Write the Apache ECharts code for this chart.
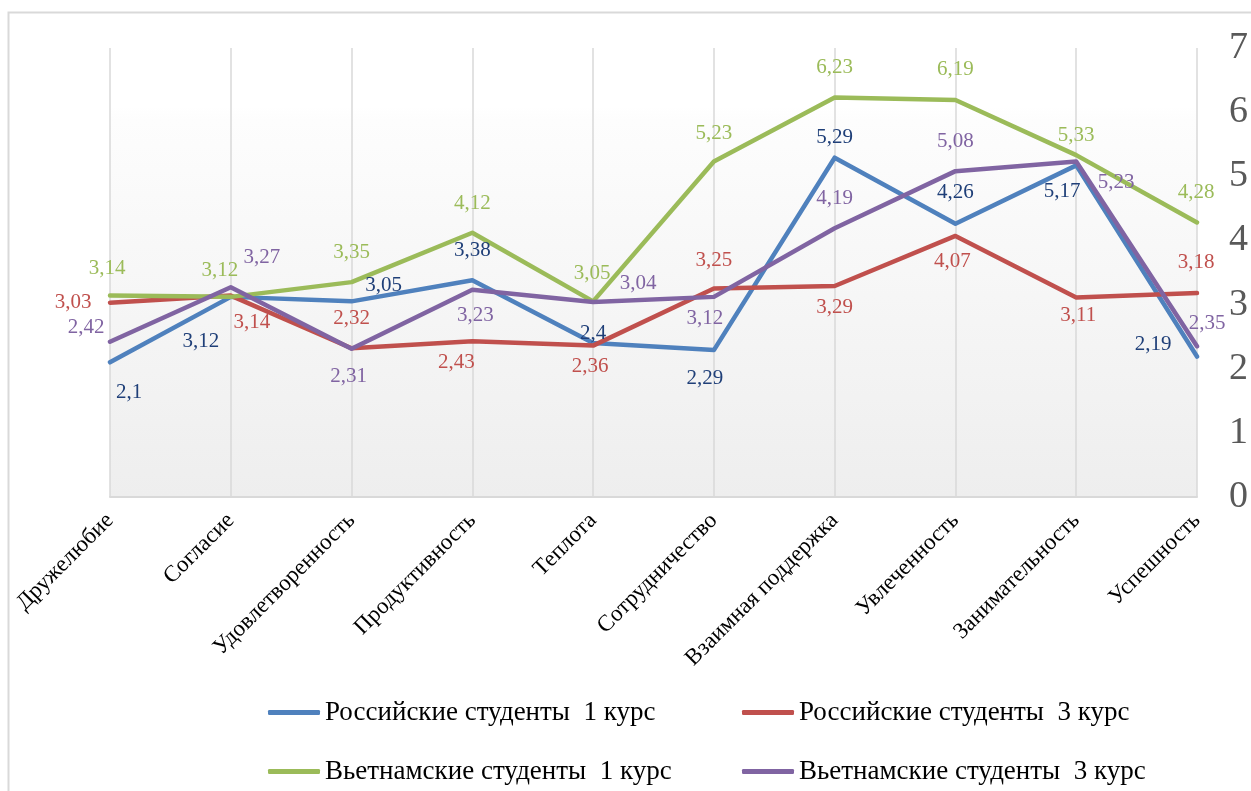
<!DOCTYPE html>
<html>
<head>
<meta charset="utf-8">
<script src="https://cdn.jsdelivr.net/npm/echarts@6/dist/echarts.min.js"></script>
<style>
html,body{margin:0;padding:0;background:#fff;overflow:hidden;width:100%;height:100%;}
#chart{width:100vw;height:100vh;}
</style>
</head>
<body>
<div id="chart"></div>
<script>
var categories = ['Дружелюбие','Согласие','Удовлетворенность','Продуктивность','Теплота','Сотрудничество','Взаимная поддержка','Увлеченность','Занимательность','Успешность'];
var seriesNames = ['Российские студенты  1 курс','Российские студенты  3 курс','Вьетнамские студенты  1 курс','Вьетнамские студенты  3 курс'];
var ruYear1 = [2.1, 3.12, 3.05, 3.38, 2.4, 2.29, 5.29, 4.26, 5.17, 2.19];
var ruYear3 = [3.03, 3.14, 2.32, 2.43, 2.36, 3.25, 3.29, 4.07, 3.11, 3.18];
var vnYear1 = [3.14, 3.12, 3.35, 4.12, 3.05, 5.23, 6.23, 6.19, 5.33, 4.28];
var vnYear3 = [2.42, 3.27, 2.31, 3.23, 3.04, 3.12, 4.19, 5.08, 5.23, 2.35];
var yTicks = [0,1,2,3,4,5,6,7];

// label offsets (style only)
var offRu1 = [[19,30],[-30,45],[32,-16],[0,-30],[0,-10],[-9,28],[0,-20],[0,-31],[-14,26],[-44,-12]];
var offRu3 = [[-37,0],[21,27],[0,-30],[-16,21],[-3,21],[0,-28],[0,22],[-3,26],[2,18],[-1,-31]];
var offVn1 = [[-3,-27],[-11,-26],[0,-30],[0,-29],[-1,-28],[0,-28],[0,-30],[0,-30],[0,-20],[-1,-30]];
var offVn3 = [[-24,-14],[31,-30],[-3,28],[3,26],[45,-19],[-9,22],[0,-30],[0,-30],[40,21],[10,-23]];

var lineColors = ['#4F81BD','#C0504D','#9BBB59','#8064A2'];
var labelColors = ['#1F3F78','#C0504D','#9BBB59','#8064A2'];
var FONT = '"Liberation Serif","Times New Roman",serif';

function mk(idx, values, offs){
  return {
    name: seriesNames[idx],
    type: 'line',
    data: values.map(function(v,i){
      return {value: v, label: {offset: offs[i]}};
    }),
    symbol: 'circle',
    symbolSize: 0.1,
    showSymbol: true,
    lineStyle: {color: lineColors[idx], width: 4.5, cap: 'round', join: 'round'},
    itemStyle: {color: lineColors[idx]},
    label: {
      show: true,
      position: 'inside',
      color: labelColors[idx],
      fontFamily: FONT,
      fontSize: 21,
      formatter: function(p){ return String(p.value).replace('.', ','); }
    },
    emphasis: {disabled: true},
    animation: false
  };
}

function lg(idx, left, top){
  return {
    data: [seriesNames[idx]],
    left: left, top: top,
    padding: 0,
    icon: 'roundRect',
    itemWidth: 52, itemHeight: 5,
    selectedMode: false,
    textStyle: {fontFamily: FONT, fontSize: 27, color: '#000'}
  };
}

var chart = echarts.init(document.getElementById('chart'));
chart.setOption({
  backgroundColor: '#fff',
  animation: false,
  graphic: [{
    type: 'rect', left: 6, top: 10, silent: true,
    shape: {width: 1300, height: 900},
    style: {fill: 'none', stroke: '#d9d9d9', lineWidth: 2}
  }],
  legend: [
    lg(0, 268, 699), lg(1, 742, 699),
    lg(2, 268, 758), lg(3, 742, 758)
  ],
  grid: {
    left: 110, right: 48, top: 48, bottom: 294,
    show: true, borderWidth: 0,
    backgroundColor: {
      type: 'linear', x: 0, y: 0, x2: 0, y2: 1,
      colorStops: [{offset: 0, color: '#ffffff'}, {offset: 0.13, color: '#ffffff'}, {offset: 0.16, color: '#fdfdfd'}, {offset: 1, color: '#eeeeee'}]
    }
  },
  xAxis: {
    type: 'category',
    data: categories,
    boundaryGap: false,
    axisLine: {show: true, lineStyle: {color: '#d9d9d9', width: 2}},
    axisTick: {show: false},
    splitLine: {show: true, lineStyle: {color: '#d9d9d9', width: 1.5}},
    axisLabel: {
      rotate: 45, margin: 20, interval: 0,
      fontFamily: FONT, fontSize: 23, color: '#000'
    }
  },
  yAxis: {
    type: 'value',
    position: 'right',
    min: 0, max: 7, interval: 1,
    axisLine: {show: false},
    axisTick: {show: false},
    splitLine: {show: false},
    axisLabel: {
      margin: 32, fontFamily: FONT, fontSize: 38, color: '#595959',
      formatter: function(v){ return yTicks.indexOf(v) >= 0 ? String(v) : ''; }
    }
  },
  series: [
    mk(0, ruYear1, offRu1),
    mk(1, ruYear3, offRu3),
    mk(2, vnYear1, offVn1),
    mk(3, vnYear3, offVn3)
  ]
});
</script>
</body>
</html>
